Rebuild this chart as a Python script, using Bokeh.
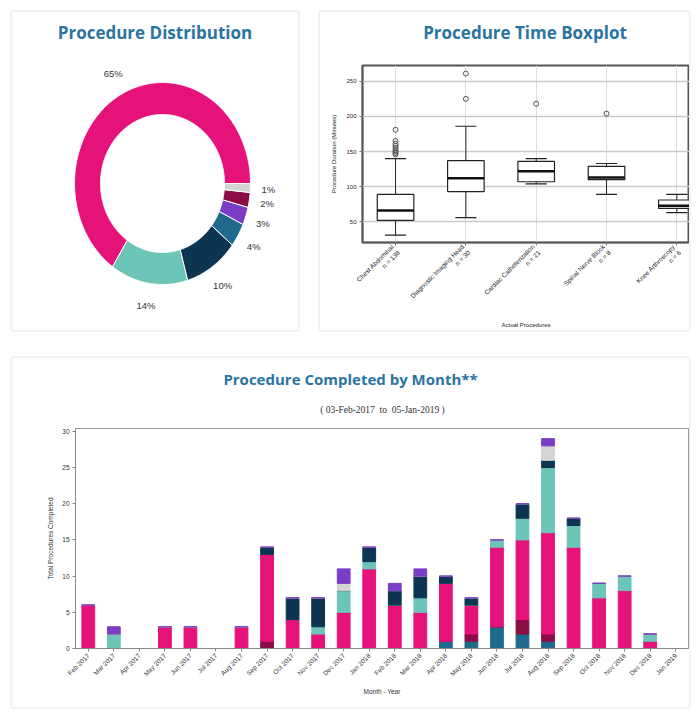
import numpy as np
from bokeh.plotting import figure
from bokeh.layouts import column, row
from bokeh.models import Range1d, FixedTicker, ColumnDataSource, Div
from bokeh.embed import file_html
from bokeh.resources import INLINE
from bokeh.core.properties import value

# ---------------- data ----------------
months = ["Feb 2017", "Mar 2017", "Apr 2017", "May 2017", "Jun 2017", "Jul 2017",
          "Aug 2017", "Sep 2017", "Oct 2017", "Nov 2017", "Dec 2017", "Jan 2018",
          "Feb 2018", "Mar 2018", "Apr 2018", "May 2018", "Jun 2018", "Jul 2018",
          "Aug 2018", "Sep 2018", "Oct 2018", "Nov 2018", "Dec 2018", "Jan 2019"]

chest_abdominal = [6, 0, 0, 3, 3, 0, 3, 12, 4, 2, 5, 11, 6, 5, 8, 4, 11, 11, 14, 14, 7, 8, 1, 0]
diagnostic_head = [0, 2, 0, 0, 0, 0, 0, 0, 0, 1, 3, 1, 0, 2, 0, 0, 1, 3, 9, 3, 2, 2, 1, 0]
cardiac_cath    = [0, 0, 0, 0, 0, 0, 0, 1, 3, 4, 0, 2, 2, 3, 1, 1, 0, 2, 1, 1, 0, 0, 0, 0]
spinal_block    = [0, 0, 0, 0, 0, 0, 0, 0, 0, 0, 0, 0, 0, 0, 1, 1, 3, 2, 1, 0, 0, 0, 0, 0]
knee_arthro     = [0, 1, 0, 0, 0, 0, 0, 0, 0, 0, 2, 0, 1, 1, 0, 0, 0, 0, 1, 0, 0, 0, 0, 0]
hernia_repair   = [0, 0, 0, 0, 0, 0, 0, 1, 0, 0, 0, 0, 0, 0, 0, 1, 0, 2, 1, 0, 0, 0, 0, 0]
other_proc      = [0, 0, 0, 0, 0, 0, 0, 0, 0, 0, 1, 0, 0, 0, 0, 0, 0, 0, 2, 0, 0, 0, 0, 0]

proc_names = ["Chest Abdominal", "Diagnostic Imaging Head", "Cardiac Catheterization",
              "Spinal Nerve Block", "Knee Arthroscopy", "Hernia Repair", "Other"]
proc_series = [chest_abdominal, diagnostic_head, cardiac_cath, spinal_block,
               knee_arthro, hernia_repair, other_proc]
proc_colors = ["#E5127A", "#6DC5B8", "#0D3450", "#1F6A8C", "#7B3CC6", "#8C0C45", "#D4D4D4"]

# stacking order of the monthly bars (bottom -> top)
stack_order = [3, 5, 0, 1, 2, 6, 4]

# boxplot of procedure time (minutes)
box_lower  = [31, 56, 104, 89, 63]
box_q1     = [52, 93, 107, 110, 69]
box_median = [66, 112, 122, 113, 73]
box_q3     = [89, 137, 136, 129, 81]
box_upper  = [140, 186, 140, 133, 89]
outlier_box   = [1, 1, 1, 1, 1, 1, 1, 1, 1, 2, 2, 3, 4]
outlier_value = [146, 148, 150, 152, 155, 158, 161, 165, 181, 225, 261, 218, 204]
box_ticks = [50, 100, 150, 200, 250]
count_ticks = [0, 5, 10, 15, 20, 25, 30]

TITLE_COLOR = "#2B74A1"
AX_FONT = "Liberation Sans"
PANEL_STYLE = {"box-shadow": "0 0 2px 1px rgba(0,0,0,0.10)", "background-color": "white"}


def no_align(p):
    try:
        p.frame_align = False
    except Exception:
        pass


def title_div(text, width, height, pad_left=0, size=15, bold=True, color=TITLE_COLOR,
              font="Open Sans"):
    weight = "bold" if bold else "normal"
    html = (f'<div style="display:block;box-sizing:border-box;width:{width}px;'
            f'font-family:\'{font}\';font-size:{size}px;font-weight:{weight};'
            f'color:{color};text-align:center;line-height:{height}px;height:{height}px;'
            f'padding-left:{pad_left}px;white-space:nowrap;">{text}</div>')
    return Div(text=html, width=width, height=height, margin=(0, 0, 0, 0))


# ---------------- donut ----------------
W1, H1 = 286, 276
p1 = figure(width=W1, height=H1, x_range=Range1d(0, W1), y_range=Range1d(0, H1),
            output_backend="svg", toolbar_location=None, min_border=0)
no_align(p1)
p1.axis.visible = False
p1.grid.visible = False
p1.outline_line_color = None

totals = np.array([sum(s) for s in proc_series], dtype=float)
frac = totals / totals.sum()
ends = np.cumsum(frac) * 2 * np.pi
starts = ends - frac * 2 * np.pi
cx, cy = 150, 147
rxo, ryo, rxi, ryi = 88, 101, 62, 69
xs, ys = [], []
for a0, a1 in zip(starts, ends):
    t = np.linspace(a0, a1, max(int((a1 - a0) / 0.01), 4))
    xs.append(np.concatenate([cx + rxo * np.cos(t), cx + rxi * np.cos(t[::-1])]).tolist())
    ys.append(np.concatenate([cy + ryo * np.sin(t), cy + ryi * np.sin(t[::-1])]).tolist())
p1.patches(xs, ys, fill_color=proc_colors, line_color="white", line_width=1)

mid = (starts + ends) / 2
lab_src = ColumnDataSource(dict(x=cx + 106 * np.cos(mid), y=cy + 124 * np.sin(mid),
                                t=[f"{int(round(100 * f))}%" for f in frac]))
p1.text(x="x", y="y", text="t", source=lab_src, text_align="center", text_baseline="middle",
        text_font_size="9.5px", text_color="#333333", text_font=value(AX_FONT))
panel1 = column(title_div("Procedure Distribution", W1, 42, size=17), p1, spacing=0,
                styles=PANEL_STYLE)

# ---------------- boxplot ----------------
W2, H2 = 369, 276
FL2, FT2, FB2 = 42, 11, 80
x0b, x1b = 0.53, 5.18
y0b, y1b = 20.5, 272.5
p2 = figure(width=W2, height=H2, x_range=Range1d(x0b, x1b), y_range=Range1d(y0b, y1b),
            output_backend="svg", toolbar_location=None,
            min_border_left=FL2, min_border_right=0, min_border_top=FT2, min_border_bottom=FB2)
no_align(p2)

idx = list(range(1, len(box_median) + 1))
n_counts = [int(t) for t in totals[:len(idx)]]
bsrc = ColumnDataSource(dict(x=idx, lo=box_lower, q1=box_q1, med=box_median, q3=box_q3, hi=box_upper))
p2.segment(x0="x", y0="q3", x1="x", y1="hi", source=bsrc, line_color="#222222", line_width=1)
p2.segment(x0="x", y0="q1", x1="x", y1="lo", source=bsrc, line_color="#222222", line_width=1)
cap = 0.15
p2.segment(x0=[i - cap for i in idx], y0=box_upper, x1=[i + cap for i in idx], y1=box_upper,
           line_color="#222222", line_width=1.2)
p2.segment(x0=[i - cap for i in idx], y0=box_lower, x1=[i + cap for i in idx], y1=box_lower,
           line_color="#222222", line_width=1.2)
p2.vbar(x="x", bottom="q1", top="q3", width=0.52, source=bsrc, fill_color="white",
        line_color="#222222", line_width=1.2)
p2.segment(x0=[i - 0.26 for i in idx], y0=box_median, x1=[i + 0.26 for i in idx], y1=box_median,
           line_color="#111111", line_width=2.5)
p2.scatter(outlier_box, outlier_value, size=5, fill_color=None, line_color="#555555", line_width=1)

p2.xaxis.ticker = FixedTicker(ticks=idx)
p2.xaxis.major_label_overrides = {i: f"{proc_names[i-1]}\nn = {n_counts[i-1]}" for i in idx}
p2.xaxis.major_label_orientation = np.pi / 4
p2.yaxis.ticker = FixedTicker(ticks=box_ticks)
p2.xaxis.axis_label = "Actual Procedures"
p2.yaxis.axis_label = "Procedure Duration (Minutes)"
for ax in [p2.xaxis[0], p2.yaxis[0]]:
    ax.major_label_text_font_size = "6px"
    ax.major_label_text_font = AX_FONT
    ax.major_label_text_color = "#222222"
    ax.axis_label_text_font_size = "6px"
    ax.axis_label_text_font = AX_FONT
    ax.axis_label_text_font_style = "normal"
    ax.axis_label_text_color = "#222222"
    ax.axis_line_color = "#555555"
    ax.axis_line_width = 1.5
    ax.major_tick_line_color = "#777777"
    ax.major_tick_out = 3
    ax.major_tick_in = 0
    ax.minor_tick_line_color = None
    ax.major_label_standoff = 3
    ax.axis_label_standoff = 6
p2.xaxis.major_label_text_font_size = "6.5px"
p2.xaxis.axis_label_standoff = 8
p2.xgrid.grid_line_color = "#dddddd"
p2.xgrid.grid_line_width = 1
p2.ygrid.grid_line_color = "#c9c9c9"
p2.ygrid.grid_line_width = 1.5
p2.outline_line_color = "#555555"
p2.outline_line_width = 2
panel2 = column(title_div("Procedure Time Boxplot", W2, 42, pad_left=41, size=17), p2,
                spacing=0, styles=PANEL_STYLE)

# ---------------- monthly stacked bars ----------------
W3, H3 = 677, 287
FL3, FR3, FT3, FB3 = 63, 1, 8, 59
y1c = 30.4
nm = len(months)
p3 = figure(width=W3, height=H3, x_range=Range1d(0, nm), y_range=Range1d(0, y1c),
            output_backend="svg", toolbar_location=None,
            min_border_left=FL3, min_border_right=FR3, min_border_top=FT3, min_border_bottom=FB3)
no_align(p3)

mpos = [i + 0.5 for i in range(nm)]
data = {"pos": mpos, "month": months}
for name, s in zip(proc_names, proc_series):
    data[name] = s
msrc = ColumnDataSource(data)
p3.vbar_stack([proc_names[i] for i in stack_order], x="pos", width=0.5,
              color=[proc_colors[i] for i in stack_order], source=msrc)

p3.xaxis.ticker = FixedTicker(ticks=mpos)
p3.xaxis.major_label_overrides = {p: m for p, m in zip(mpos, months)}
p3.yaxis.ticker = FixedTicker(ticks=count_ticks)
p3.xaxis.major_label_orientation = np.pi / 4
p3.xaxis.axis_label = "Month - Year"
p3.yaxis.axis_label = "Total Procedures Completed"
for ax in [p3.xaxis[0], p3.yaxis[0]]:
    ax.major_label_text_font_size = "6.5px"
    ax.major_label_text_font = AX_FONT
    ax.major_label_text_color = "#333333"
    ax.axis_label_text_font_size = "6.5px"
    ax.axis_label_text_font = AX_FONT
    ax.axis_label_text_font_style = "normal"
    ax.axis_label_text_color = "#333333"
    ax.axis_line_color = "#888888"
    ax.major_tick_line_color = "#888888"
    ax.major_tick_out = 3
    ax.major_tick_in = 0
    ax.minor_tick_line_color = None
    ax.major_label_standoff = 3
    ax.axis_label_standoff = 5
p3.grid.visible = False
p3.outline_line_color = "#999999"
panel3 = column(title_div("Procedure Completed by Month**", W3, 42),
                title_div("(&nbsp;03-Feb-2017&nbsp;&nbsp;to&nbsp;&nbsp;05-Jan-2019&nbsp;)", W3, 20,
                          pad_left=64, size=9.5, bold=False, color="#333333",
                          font="Liberation Serif"),
                p3, spacing=0, styles=PANEL_STYLE)

layout = column(row(panel1, panel2, spacing=22), panel3, spacing=28, margin=(12, 0, 0, 12))
open("out.html", "w").write(file_html(layout, INLINE))
